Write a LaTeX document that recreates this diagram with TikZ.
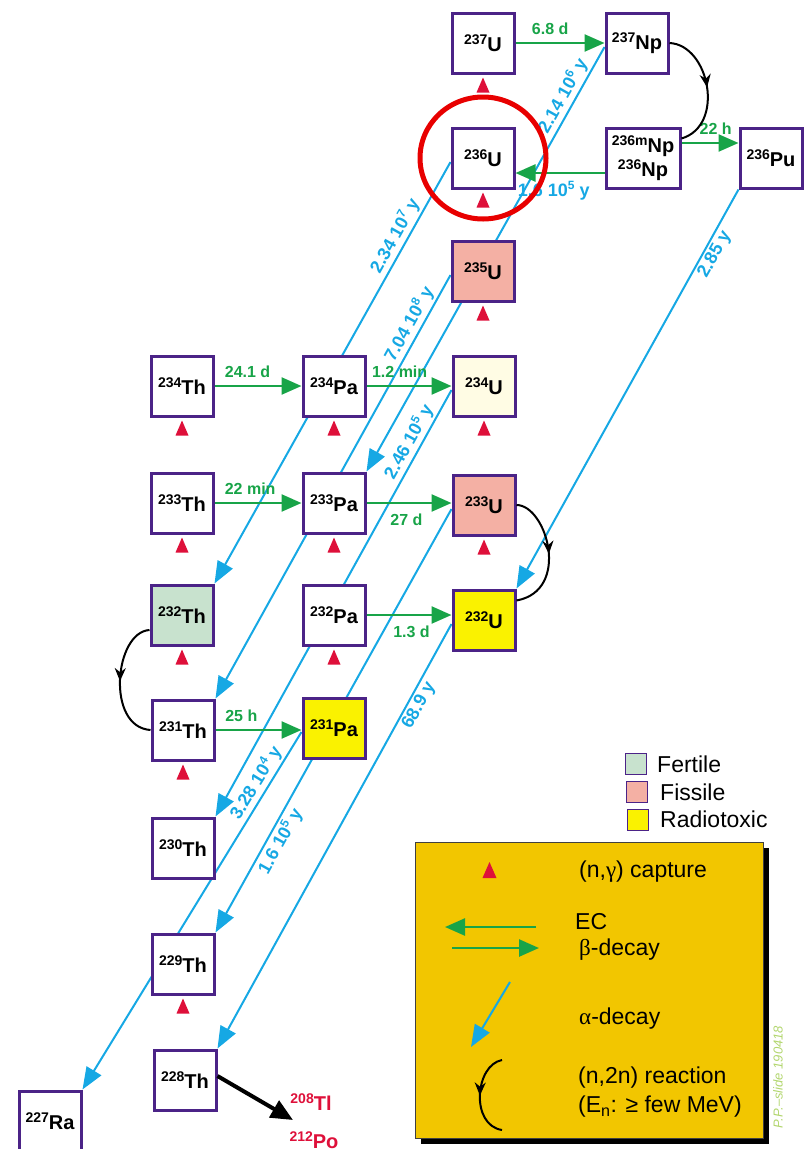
\documentclass[tikz,border=0pt]{standalone}
\usepackage{fontspec}
\setmainfont{Liberation Sans}
\newfontfamily\grk{Liberation Serif}
\usetikzlibrary{arrows.meta,calc,decorations.markings}
\pgfdeclarelayer{background}
\pgfsetlayers{background,main}
\definecolor{boxpurple}{RGB}{75,35,135}
\definecolor{betagreen}{RGB}{24,164,72}
\definecolor{alphablue}{RGB}{22,168,228}
\definecolor{capred}{RGB}{222,16,58}
\definecolor{fertile}{RGB}{200,226,206}
\definecolor{fissile}{RGB}{244,176,164}
\definecolor{radiotox}{RGB}{250,242,0}
\definecolor{creamfill}{RGB}{255,252,228}
\definecolor{legendorange}{RGB}{242,198,0}
\definecolor{circred}{RGB}{232,0,0}
\definecolor{slidegreen}{RGB}{178,214,110}
\newcommand{\nuc}[2]{{\fontsize{14}{14}\selectfont\raisebox{7.5pt}{#1}}#2}
\newcommand{\ex}[1]{\raisebox{6.5pt}{\fontsize{12}{12}\selectfont #1}}
\newcommand{\capmark}[1]{\fill[capred] ($(#1.south)+(0,3)$) -- ++(6.5,15) -- ++(-13,0) -- cycle;}
\begin{document}
\begin{tikzpicture}[x=1pt,y=-1pt,
  nucbox/.style={draw=boxpurple, line width=3pt, fill=white, minimum width=62pt, minimum height=60pt, inner sep=0pt, font=\fontsize{20}{22}\selectfont\bfseries},
  betaarrow/.style={draw=betagreen, line width=2.5pt, -{Triangle[length=20pt,width=17pt]}},
  alphaarrow/.style={draw=alphablue, line width=2pt, -{Triangle[length=22pt,width=17pt]}},
  halflife/.style={font=\fontsize{16}{18}\selectfont\bfseries, text=betagreen, inner sep=2pt},
  alphalabel/.style={font=\fontsize{18}{20}\selectfont\bfseries, text=alphablue, inner sep=2pt, sloped},
  nnarrow/.style={draw=black, line width=2pt, decoration={markings, mark=at position 0.5 with {\arrow{Stealth[length=13pt,width=11pt]}}}, postaction={decorate}},
  legtext/.style={font=\fontsize{23}{26}\selectfont, anchor=west, inner sep=0pt},
  legsq/.style={draw=boxpurple, line width=1.5pt, minimum width=21pt, minimum height=21pt, inner sep=0pt},
  prodtext/.style={font=\fontsize{20}{22}\selectfont\bfseries, text=capred, inner sep=0pt}
]
\useasboundingbox (0,0) rectangle (805,1149);

% nuclide boxes
\node[nucbox] (U237) at (483,43) {\nuc{237}{U}};
\node[nucbox] (Np237) at (637,43) {\nuc{237}{Np}};
\node[nucbox, minimum width=74pt, align=center] (Np236) at (643,158) {\nuc{236m}{Np}\\[2pt]\nuc{236}{Np}};
\node[nucbox] (Pu236) at (771,158) {\nuc{236}{Pu}};
\node[nucbox] (U236) at (483,158) {\nuc{236}{U}};
\node[nucbox, fill=fissile] (U235) at (483,271) {\nuc{235}{U}};
\node[nucbox] (Th234) at (182,386) {\nuc{234}{Th}};
\node[nucbox] (Pa234) at (334,386) {\nuc{234}{Pa}};
\node[nucbox, fill=creamfill] (U234) at (484,386) {\nuc{234}{U}};
\node[nucbox] (Th233) at (182,503) {\nuc{233}{Th}};
\node[nucbox] (Pa233) at (334,503) {\nuc{233}{Pa}};
\node[nucbox, fill=fissile] (U233) at (484,505) {\nuc{233}{U}};
\node[nucbox, fill=fertile] (Th232) at (182,615) {\nuc{232}{Th}};
\node[nucbox] (Pa232) at (334,615) {\nuc{232}{Pa}};
\node[nucbox, fill=radiotox] (U232) at (484,620) {\nuc{232}{U}};
\node[nucbox] (Th231) at (183,730) {\nuc{231}{Th}};
\node[nucbox, fill=radiotox] (Pa231) at (334,728) {\nuc{231}{Pa}};
\node[nucbox] (Th230) at (183,848) {\nuc{230}{Th}};
\node[nucbox] (Th229) at (183,964) {\nuc{229}{Th}};
\node[nucbox] (Th228) at (185,1080) {\nuc{228}{Th}};
\node[nucbox] (Ra227) at (50,1121) {\nuc{227}{Ra}};

% decay products
\node[prodtext] (Tl208) at (311,1102) {\nuc{208}{Tl}};
\node[prodtext] (Po212) at (314,1140) {\nuc{212}{Po}};
\coordinate (chainend) at (293,1120);

% alpha decays (behind boxes)
\begin{pgfonlayer}{background}
\draw[alphaarrow] ([yshift=-4pt]Np237.west) -- node[alphalabel, pos=0.13, above] {2.14 10\ex{6} y} (Pa233.north east);
\draw[alphaarrow] ([yshift=-4pt]U236.west) -- node[alphalabel, pos=0.19, above] {2.34 10\ex{7} y} (Th232.north east);
\draw[alphaarrow] ([yshift=-4pt]U235.west) -- node[alphalabel, pos=0.13, above] {7.04 10\ex{8} y} (Th231.north east);
\draw[alphaarrow] ([yshift=-4pt]U234.west) -- node[alphalabel, pos=0.135, above] {2.46 10\ex{5} y} (Th230.north east);
\draw[alphaarrow] ([yshift=-4pt]U233.west) -- node[alphalabel, pos=0.77, below] {1.6 10\ex{5} y} (Th229.north east);
\draw[alphaarrow] ([yshift=-4pt]U232.west) -- node[alphalabel, pos=0.18, below] {68.9 y} (Th228.north east);
\draw[alphaarrow] ([yshift=-4pt]Pa231.west) -- node[alphalabel, pos=0.16, above] {3.28 10\ex{4} y} (Ra227.north east);
\draw[alphaarrow] (Pu236.south west) -- node[alphalabel, pos=0.15, below] {2.85 y} (U232.north east);
\end{pgfonlayer}

% beta decays / EC
\draw[betaarrow] (U237.east) -- node[halflife, pos=0.39, above=5pt] {6.8 d} (U237.east -| Np237.west);
\draw[betaarrow] ($(Np236.east)+(0,-15)$) -- node[halflife, pos=0.6, above=5pt] {22 h} ($(Pu236.west)+(0,-15)$);
\draw[betaarrow] ($(Np236.west)+(0,15)$) -- node[alphalabel, sloped=false, pos=0.57, below=5pt] {1.6 10\ex{5} y} ($(U236.east)+(0,15)$);
\draw[betaarrow] (Th234.east) -- node[halflife, pos=0.38, above=5pt] {24.1 d} (Th234.east -| Pa234.west);
\draw[betaarrow] (Pa234.east) -- node[halflife, pos=0.39, above=5pt] {1.2 min} (Pa234.east -| U234.west);
\draw[betaarrow] (Th233.east) -- node[halflife, pos=0.41, above=5pt] {22 min} (Th233.east -| Pa233.west);
\draw[betaarrow] (Pa233.east) -- node[halflife, pos=0.47, below=8pt] {27 d} (Pa233.east -| U233.west);
\draw[betaarrow] (Pa232.east) -- node[halflife, pos=0.53, below=8pt] {1.3 d} (Pa232.east -| U232.west);
\draw[betaarrow] (Th231.east) -- node[halflife, pos=0.3, above=5pt] {25 h} (Th231.east -| Pa231.west);

% (n,2n) reactions
\draw[nnarrow] (Np237.east) .. controls ($(Np237.east)+(40,2)$) and ($(Np236.north east)+(44,-1)$) .. ($(Np236.north east)+(0,12)$);
\draw[nnarrow] (U233.east) .. controls ($(U233.east)+(30,0)$) and ($(U232.north east)+(55,2)$) .. ($(U232.north east)+(0,12)$);
\draw[nnarrow] ($(Th232.west)+(0,15)$) .. controls ($(Th232.west)+(-35,17)$) and ($(Th231.west)+(-45,-3)$) .. (Th231.west);

% decay chain to Tl/Po
\draw[black, line width=4pt, -{Triangle[length=22pt,width=19pt]}] ([yshift=4pt]Th228.east) -- (chainend);

% (n,gamma) capture marks
\capmark{U237}\capmark{U236}\capmark{U235}
\capmark{Th234}\capmark{Pa234}\capmark{U234}
\capmark{Th233}\capmark{Pa233}\capmark{U233}
\capmark{Th232}\capmark{Pa232}
\capmark{Th231}\capmark{Th229}

% highlight circle
\draw[circred, line width=5pt] (U236.center) ellipse [x radius=63pt, y radius=61pt];

% legend of colours
\node[legsq, fill=fertile] (sqfert) at (636,764) {};
\node[legsq, fill=fissile] (sqfiss) at (637,792) {};
\node[legsq, fill=radiotox] (sqrad) at (638,820) {};
\node[legtext] (tfert) at (657,764) {Fertile};
\node[legtext] (tfiss) at (660,792) {Fissile};
\node[legtext] (trad) at (660,819) {Radiotoxic};

% legend box
\fill[black] (421,848) rectangle (769,1144);
\filldraw[fill=legendorange, draw=black!75, line width=1pt] (415,842) rectangle (763,1138);
\fill[capred] (489.5,862) -- (496.5,878) -- (482.5,878) -- cycle;
\node[legtext] (lcap) at (579,872) {(n,{\grk γ}) capture};
\coordinate (ecS) at (536,927); \coordinate (ecE) at (445,927);
\coordinate (bdS) at (452,948); \coordinate (bdE) at (539,948);
\draw[betaarrow] (ecS) -- (ecE);
\draw[betaarrow] (bdS) -- (bdE);
\node[legtext] (lec) at (575,922) {EC};
\node[legtext] (lbeta) at (579,950) {{\grk β}-decay};
\coordinate (adS) at (510,982); \coordinate (adE) at (471,1047);
\draw[alphaarrow] (adS) -- (adE);
\node[legtext] (lalpha) at (579,1019) {{\grk α}-decay};
\coordinate (nnS) at (502,1060); \coordinate (nnE) at (502,1130);
\draw[nnarrow] (nnS) .. controls (475,1065) and (470,1125) .. (nnE);
\node[legtext] (ln2n) at (578,1078) {(n,2n) reaction};
\node[legtext] (len) at (578,1107) {(E\textsubscript{n}: ≥ few MeV)};
\node[font=\fontsize{13}{14}\selectfont\itshape, text=slidegreen, rotate=90, inner sep=0pt] (slide) at (778,1077) {P.P.--slide 190418};
\end{tikzpicture}
\end{document}
